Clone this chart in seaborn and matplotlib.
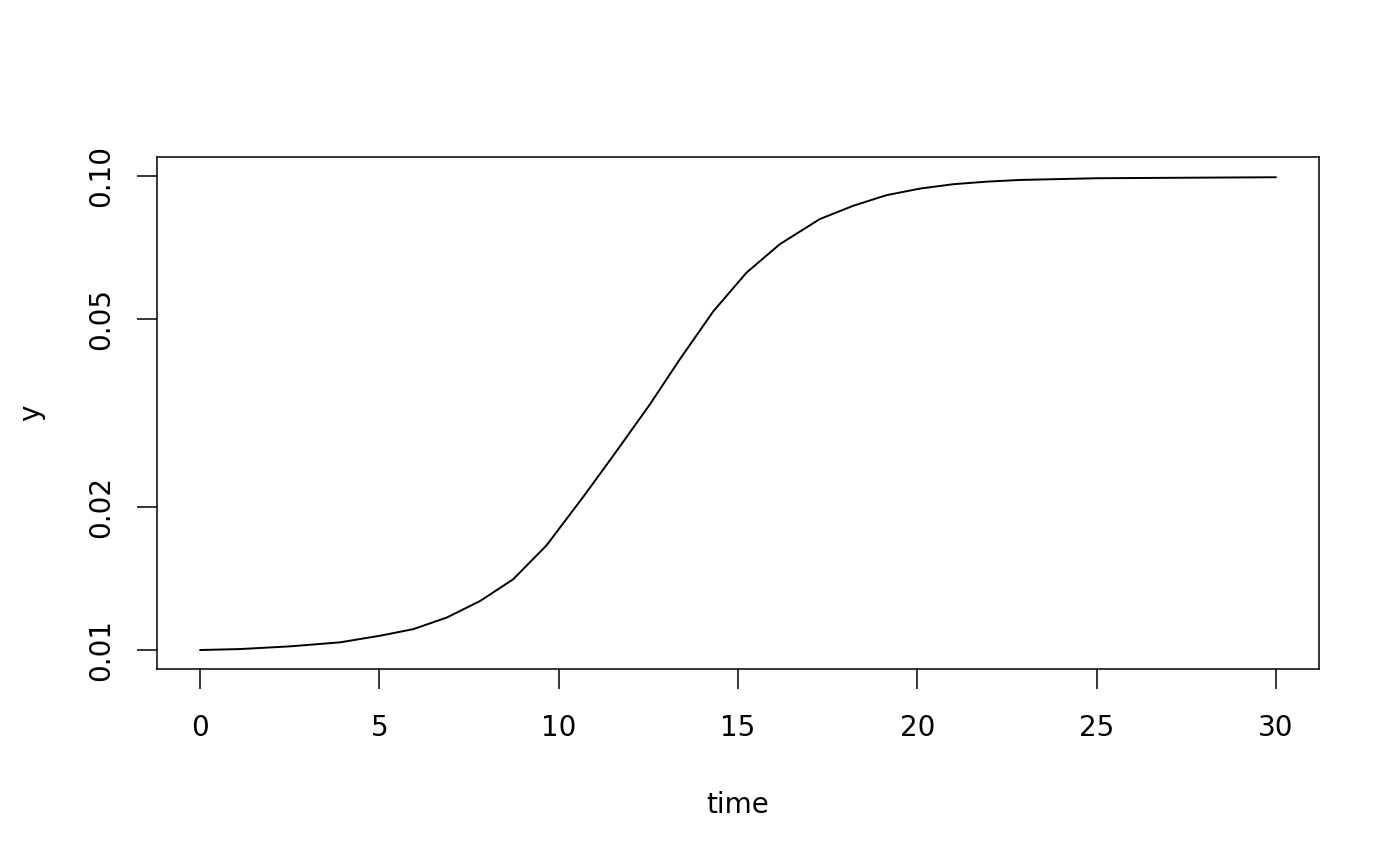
import numpy as np
import pandas as pd
import matplotlib
matplotlib.use('Agg')
import matplotlib.pyplot as plt
import seaborn as sns
from matplotlib.ticker import FixedLocator, FixedFormatter, NullLocator

# values
time = [0.0, 1.12, 2.51, 3.9, 5.02, 5.95, 6.88, 7.81, 8.73, 9.66, 10.69,
        11.62, 12.55, 13.38, 14.31, 15.24, 16.17, 17.28, 18.21, 19.14,
        20.07, 21.0, 21.93, 22.86, 25.0, 27.7, 30.0]
y = [0.01000, 0.010048, 0.01018, 0.01038, 0.01072, 0.01107, 0.01171,
     0.01269, 0.01410, 0.01662, 0.02107, 0.02632, 0.03303, 0.04107,
     0.05180, 0.06256, 0.07183, 0.08110, 0.08650, 0.09109, 0.09404,
     0.09607, 0.09727, 0.09808, 0.09890, 0.09917, 0.09938]

y_ticks = [0.01, 0.02, 0.05, 0.10]
y_tick_labels = ['0.01', '0.02', '0.05', '0.10']
x_ticks = [0, 5, 10, 15, 20, 25, 30]

sns.set_theme(style='white')
plt.rcParams['font.family'] = ['DejaVu Sans']

df = pd.DataFrame({'time': time, 'y': y})

fig = plt.figure(figsize=(14, 8.66), dpi=100)
ax = fig.add_axes([157 / 1400, 1 - 669 / 866, (1319 - 157) / 1400, (669 - 157) / 866])

sns.lineplot(data=df, x='time', y='y', ax=ax, color='black', linewidth=1.4)

# R-style log axis with 4% padding
ax.set_yscale('log')
lo, hi = np.log10(0.01), np.log10(0.1)
ext = 0.04 * (hi - lo)
ax.set_ylim(10 ** (lo - ext), 10 ** (hi + ext))
ax.set_xlim(-1.2, 31.2)

ax.yaxis.set_major_locator(FixedLocator(y_ticks))
ax.yaxis.set_major_formatter(FixedFormatter(y_tick_labels))
ax.yaxis.set_minor_locator(NullLocator())
ax.set_xticks(x_ticks)
ax.set_xticklabels([str(t) for t in x_ticks])

for sp in ax.spines.values():
    sp.set_visible(True)
    sp.set_color('black')
    sp.set_linewidth(1.1)

ax.tick_params(axis='both', which='major', direction='out', length=14.5,
               width=1.1, color='black', labelsize=20, labelcolor='black',
               bottom=True, left=True)
ax.tick_params(axis='x', pad=18)
ax.tick_params(axis='y', pad=16)
for lab in ax.get_yticklabels():
    lab.set_rotation(90)
    lab.set_va('center')

ax.set_xlabel('time', fontsize=20, color='black', labelpad=35)
ax.set_ylabel('y', fontsize=20, color='black', labelpad=30)
ax.grid(False)

fig.savefig('out.png', dpi=100, facecolor='white')
